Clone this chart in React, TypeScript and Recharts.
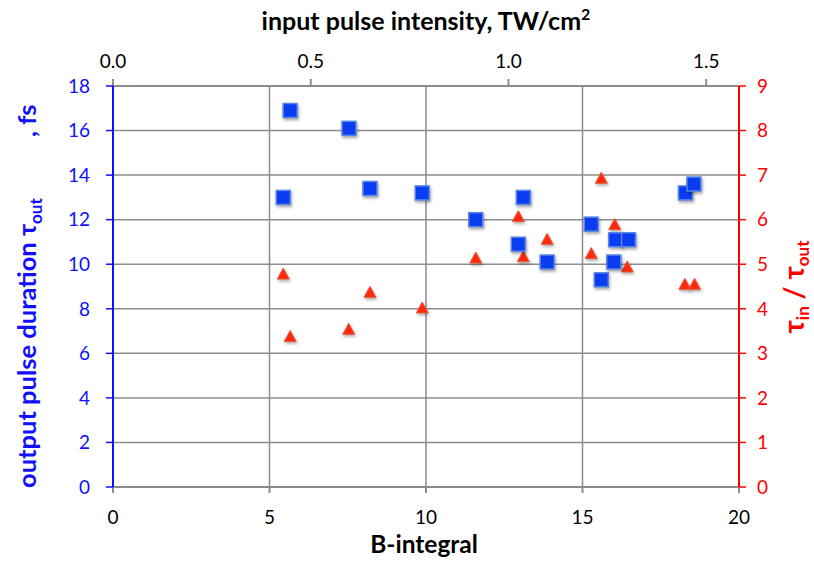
import React from "react";
import {
	ScatterChart,
	Scatter,
	XAxis,
	YAxis,
	CartesianGrid,
} from "recharts";

// B-integral (bottom axis) for each shot
const bSquares = [5.66, 5.44, 7.54, 8.21, 9.88, 11.59, 13.11, 12.95, 13.87, 15.28, 15.6, 16.0, 16.06, 16.47, 18.29, 18.56];
// output pulse duration, fs (left axis)
const tauOut = [16.9, 13.0, 16.1, 13.4, 13.2, 12.0, 13.0, 10.9, 10.1, 11.8, 9.3, 10.1, 11.1, 11.1, 13.2, 13.6];

const bTriangles = [5.44, 5.66, 7.53, 8.21, 9.88, 11.59, 12.95, 13.11, 13.87, 15.28, 15.6, 16.03, 16.06, 16.43, 18.27, 18.58];
// compression ratio tau_in / tau_out (right axis)
const ratio = [4.79, 3.39, 3.55, 4.38, 4.03, 5.15, 6.08, 5.18, 5.57, 5.25, 6.94, 5.9, 5.09, 4.95, 4.56, 4.56];

const bTicks = [0, 5, 10, 15, 20];
const intensityTicks = [0, 0.5, 1.0, 1.5];
const tauTicks = [0, 2, 4, 6, 8, 10, 12, 14, 16, 18];
const ratioTicks = [0, 1, 2, 3, 4, 5, 6, 7, 8, 9];

const squareData = bSquares.map((b, i) => ({ b, tau: tauOut[i] }));
const triangleData = bTriangles.map((b, i) => ({ b, r: ratio[i] }));
// only there so the top axis gets registered; drawn as nothing
const topAxisData = intensityTicks.map((v) => ({ inten: v, tau: 0 }));

const W = 814;
const H = 566;
const FONT = "Lato, 'Open Sans', sans-serif";
const GRID = "#8c8c8c";
const BLUE = "#1010ff";
const RED = "#ff0000";

const Square = (props: any) => {
	const { cx, cy } = props;
	const s = 14;
	return (
		<rect
			x={cx - s / 2}
			y={cy - s / 2}
			width={s}
			height={s}
			fill="#0a3cf2"
			stroke="#5a86e6"
			strokeWidth={1.5}
			style={{ filter: "drop-shadow(1px 2px 1.5px rgba(0,0,0,0.35))" }}
		/>
	);
};

const Triangle = (props: any) => {
	const { cx, cy } = props;
	const w = 12;
	const h = 11;
	return (
		<path
			d={`M${cx},${cy - h / 2} L${cx + w / 2},${cy + h / 2} L${cx - w / 2},${cy + h / 2} Z`}
			fill="#ff2a0e"
			stroke="#e85a3a"
			strokeWidth={1}
			style={{ filter: "drop-shadow(1px 2px 1.5px rgba(0,0,0,0.3))" }}
		/>
	);
};

const Nothing = () => <g />;

const App = () => {
	return (
		<div style={{ position: "absolute", left: 0, top: 0, width: W, height: H, background: "#fff" }}>
			<ScatterChart
				width={W}
				height={H}
				margin={{ top: 46, right: 15, left: 53, bottom: 39 }}
			>
				<CartesianGrid
					xAxisId="b"
					yAxisId="left"
					stroke={GRID}
					strokeWidth={1.5}
				/>
				<XAxis
					xAxisId="b"
					dataKey="b"
					type="number"
					domain={[0, 20]}
					ticks={bTicks}
					height={40}
					stroke={GRID}
					strokeWidth={2}
					tickSize={6}
					tickMargin={18}
					tick={{ fill: "#000", fontSize: 19, fontFamily: FONT }}
				/>
				<XAxis
					xAxisId="top"
					orientation="top"
					dataKey="inten"
					type="number"
					domain={[0, 1.583]}
					allowDataOverflow
					ticks={intensityTicks}
					tickFormatter={(v: number) => v.toFixed(1)}
					height={40}
					stroke={GRID}
					strokeWidth={2}
					tickSize={7}
					tickMargin={11}
					tick={{ fill: "#000", fontSize: 19, fontFamily: FONT }}
				/>
				<YAxis
					yAxisId="left"
					dataKey="tau"
					type="number"
					domain={[0, 18]}
					ticks={tauTicks}
					width={60}
					axisLine={{ stroke: BLUE, strokeWidth: 2 }}
					tickLine={{ stroke: BLUE, strokeWidth: 1.5 }}
					tickSize={7}
					tickMargin={16}
					tick={{ fill: BLUE, fontSize: 19, fontFamily: FONT }}
				/>
				<YAxis
					yAxisId="right"
					orientation="right"
					dataKey="r"
					type="number"
					domain={[0, 9]}
					ticks={ratioTicks}
					width={60}
					axisLine={{ stroke: RED, strokeWidth: 2 }}
					tickLine={{ stroke: RED, strokeWidth: 1.5 }}
					tickSize={7}
					tickMargin={11}
					tick={{ fill: RED, fontSize: 19, fontFamily: FONT }}
				/>
				<Scatter
					xAxisId="top"
					yAxisId="left"
					data={topAxisData}
					dataKey="tau"
					shape={Nothing}
					isAnimationActive={false}
				/>
				<Scatter
					xAxisId="b"
					yAxisId="right"
					data={triangleData}
					dataKey="r"
					shape={Triangle}
					isAnimationActive={false}
				/>
				<Scatter
					xAxisId="b"
					yAxisId="left"
					data={squareData}
					dataKey="tau"
					shape={Square}
					isAnimationActive={false}
				/>
			</ScatterChart>
			<svg
				width={W}
				height={H}
				style={{ position: "absolute", left: 0, top: 0, pointerEvents: "none" }}
			>
				<text
					x={426}
					y={30}
					textAnchor="middle"
					fontFamily={FONT}
					fontWeight="bold"
					fontSize={25}
					fill="#000"
				>
					input pulse intensity, TW/cm<tspan fontSize={16} dy={-10}>2</tspan>
				</text>
				<text
					x={424}
					y={553}
					textAnchor="middle"
					fontFamily={FONT}
					fontWeight="bold"
					fontSize={24.5}
					fill="#000"
				>
					B-integral
				</text>
				<text
					transform="translate(36, 488) rotate(-90)"
					textAnchor="start"
					fontFamily={FONT}
					fontWeight="bold"
					fontSize={25.5}
					fill={BLUE}
				>
					<tspan x={0}>output pulse duration  τ</tspan>
					<tspan fontSize={17} dy={6}>out</tspan>
					<tspan x={351} dy={-6}>, fs</tspan>
				</text>
				<text
					transform="translate(804, 287) rotate(-90)"
					textAnchor="middle"
					fontFamily={FONT}
					fontWeight="bold"
					fontSize={28}
					fill={RED}
				>
					τ<tspan fontSize={17} dy={5}>in</tspan>
					<tspan dy={-5}> / τ</tspan>
					<tspan fontSize={17} dy={5}>out</tspan>
				</text>
			</svg>
		</div>
	);
};

export default App;
